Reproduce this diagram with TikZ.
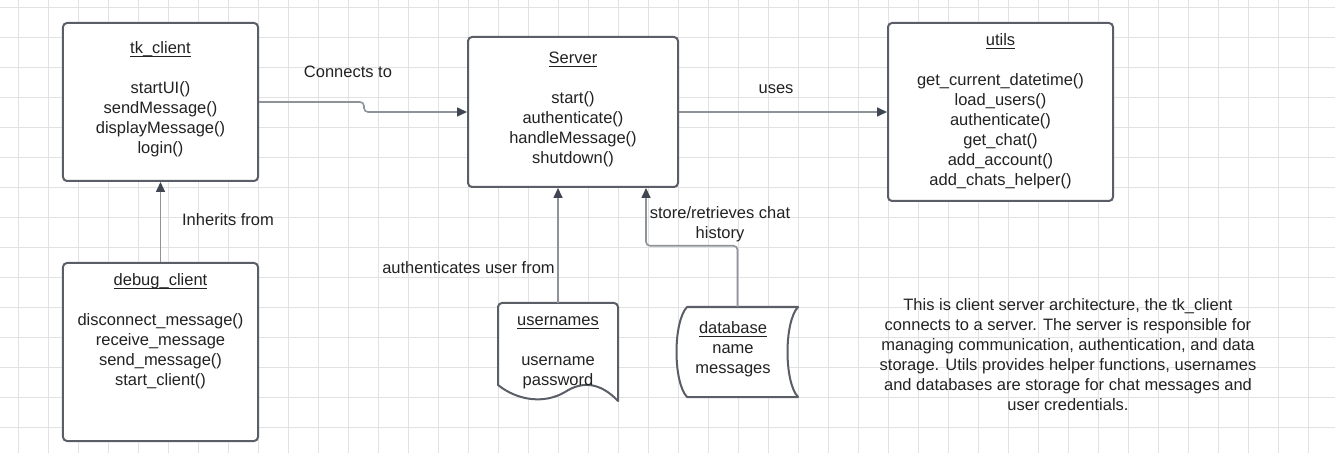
\documentclass[tikz,border=0pt]{standalone}
\usepackage{fontspec}
\setmainfont{Liberation Sans}
\usetikzlibrary{arrows.meta}
\definecolor{gridc}{HTML}{E2E2E2}
\definecolor{boxc}{HTML}{5A5E66}
\definecolor{linec}{HTML}{8E9299}
\definecolor{tipc}{HTML}{3F4652}
\definecolor{txtc}{HTML}{222222}
\newcommand\myul[1]{\setbox0\hbox{#1}\rlap{\rule[-3.2bp]{\wd0}{1.1bp}}\box0}
\tikzset{
  txt/.style={font=\fontsize{16.5bp}{20bp}\selectfont, text=txtc, inner sep=0pt, anchor=base, align=center},
  umlbox/.style={draw=boxc, line width=2bp, rounded corners=4bp, fill=white, inner sep=0pt},
  ghost/.style={inner sep=0pt},
  shapeline/.style={draw=boxc, line width=2bp, fill=white, line join=round},
  conn/.style={draw=linec, line width=1.6bp, rounded corners=4bp,
    -{Triangle[length=10bp, width=9bp, color=tipc, fill=tipc]}},
  gridline/.style={draw=gridc, line width=0.8bp}
}
\begin{document}
\begin{tikzpicture}[x=1bp,y=-1bp]
\useasboundingbox (0,0) rectangle (1335,453);
\fill[white] (0,0) rectangle (1335,453);
% grid
\foreach \gx in {18,48,...,1338} {\draw[gridline] (\gx,0) -- (\gx,453);}
\foreach \gy in {7,37,...,457} {\draw[gridline] (0,\gy) -- (1335,\gy);}

% boxes
\node[umlbox, minimum width=195bp, minimum height=158bp] (tk) at (160.5,102) {};
\node[umlbox, minimum width=195bp, minimum height=178bp] (dbg) at (160.5,352) {};
\node[umlbox, minimum width=210bp, minimum height=150bp] (srv) at (573,112) {};
\node[umlbox, minimum width=225bp, minimum height=178bp] (utl) at (1000.5,112) {};
\node[ghost, minimum width=120bp, minimum height=98bp] (usr) at (558,352) {};
\node[ghost, minimum width=121bp, minimum height=90bp] (db) at (737.5,352) {};

% usernames document shape
\draw[shapeline] (498,385) -- (498,307) arc[start angle=180, end angle=270, radius=4] -- (614,303)
  arc[start angle=270, end angle=360, radius=4] -- (618,401)
  .. controls (600,382) and (582,381) .. (565,392)
  .. controls (545,404) and (518,401) .. (498,385) -- cycle;
% database stored-data shape
\draw[shapeline] (687,307) -- (798,307) .. controls (784,322) and (784,382) .. (798,397)
  -- (687,397) .. controls (673,382) and (673,322) .. (687,307) -- cycle;

% texts in boxes (anchor = baseline of the last line)
\node[txt] (tkt) at (160.5,154) {\myul{tk\_client}\\[20bp] startUI()\\ sendMessage()\\ displayMessage()\\ login()};
\node[txt] (dbgt) at (160.5,385.5) {\myul{debug\_client}\\[20bp] disconnect\_message()\\ receive\_message\\ send\_message()\\ start\_client()};
\node[txt] (srvt) at (573,163.5) {\myul{Server}\\[20bp] start()\\ authenticate()\\ handleMessage()\\ shutdown()};
\node[txt] (utlt) at (1000.5,185.5) {\myul{utils}\\[20bp] get\_current\_datetime()\\ load\_users()\\ authenticate()\\ get\_chat()\\ add\_account()\\ add\_chats\_helper()};
\node[txt] (usrt) at (558,385.5) {\myul{usernames}\\[20bp] username\\ password};
\node[txt] (dbt) at (733,373.5) {\myul{database}\\ name\\ messages};

% connectors
\draw[conn] (tk.east) -- ++(105,0) |- (srv.west);
\draw[conn] (srv.east) -- (utl.west);
\draw[conn] (dbg.north) -- (tk.south);
\draw[conn] (usr.north) -- (usr.north |- srv.south);
\draw[conn] (db.north) -- ++(0,-61) -| ([xshift=73bp]srv.south);

% labels
\node[txt] (l1) at (348,78) {Connects to};
\node[txt] (l2) at (776,93.5) {uses};
\node[txt] (l3) at (228,225.5) {Inherits from};
\node[txt] (l4) at (468.5,273.5) {authenticates user from};
\node[txt] (l5) at (720,238.5) {store/retrieves chat\\ history};

% description
\node[txt] (desc) at (1068,410.5) {This is client server architecture, the tk\_client\\
connects to a server. The server is responsible for\\
managing communication, authentication, and data\\
storage. Utils provides helper functions, usernames\\
and databases are storage for chat messages and\\
user credentials.};
\end{tikzpicture}
\end{document}
